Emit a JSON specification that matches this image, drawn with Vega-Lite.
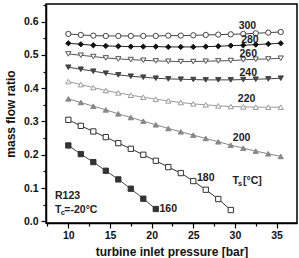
{
  "$schema": "https://vega.github.io/schema/vega-lite/v6.json",
  "autosize": "none",
  "width": 251,
  "height": 219,
  "padding": {"left": 46, "top": 4, "right": 2, "bottom": 35},
  "background": "white",
  "config": {
    "font": "Liberation Sans",
    "view": {"stroke": "#000", "strokeWidth": 1.5},
    "axis": {"grid": false, "domainColor": "#000", "domainWidth": 1.5, "tickColor": "#000", "tickWidth": 1.2, "labelFont": "Liberation Sans", "labelFontWeight": "bold", "labelFontSize": 10.5, "labelColor": "#111", "titleFont": "Liberation Sans", "titleFontWeight": "bold", "titleFontSize": 12, "titleColor": "#111"}
  },
  "resolve": {"axis": {"x": "independent", "y": "independent"}},
  "datasets": {
    "series": [
      {"T":"300","p":10,"r":0.563},{"T":"300","p":11.5,"r":0.560},{"T":"300","p":13,"r":0.558},{"T":"300","p":14.5,"r":0.557},{"T":"300","p":16,"r":0.557},{"T":"300","p":17.5,"r":0.557},{"T":"300","p":19,"r":0.557},{"T":"300","p":20.5,"r":0.557},{"T":"300","p":22,"r":0.558},{"T":"300","p":23.5,"r":0.558},{"T":"300","p":25,"r":0.559},{"T":"300","p":26.5,"r":0.560},{"T":"300","p":28,"r":0.561},{"T":"300","p":29.5,"r":0.562},{"T":"300","p":31,"r":0.563},{"T":"300","p":32.5,"r":0.565},{"T":"300","p":34,"r":0.567},{"T":"300","p":35.5,"r":0.569},
      {"T":"280","p":10,"r":0.535},{"T":"280","p":11.5,"r":0.532},{"T":"280","p":13,"r":0.529},{"T":"280","p":14.5,"r":0.527},{"T":"280","p":16,"r":0.526},{"T":"280","p":17.5,"r":0.525},{"T":"280","p":19,"r":0.525},{"T":"280","p":20.5,"r":0.525},{"T":"280","p":22,"r":0.524},{"T":"280","p":23.5,"r":0.524},{"T":"280","p":25,"r":0.524},{"T":"280","p":26.5,"r":0.525},{"T":"280","p":28,"r":0.526},{"T":"280","p":29.5,"r":0.528},{"T":"280","p":31,"r":0.529},{"T":"280","p":32.5,"r":0.531},{"T":"280","p":34,"r":0.533},{"T":"280","p":35.5,"r":0.535},
      {"T":"260","p":10,"r":0.503},{"T":"260","p":11.5,"r":0.499},{"T":"260","p":13,"r":0.495},{"T":"260","p":14.5,"r":0.491},{"T":"260","p":16,"r":0.488},{"T":"260","p":17.5,"r":0.486},{"T":"260","p":19,"r":0.484},{"T":"260","p":20.5,"r":0.482},{"T":"260","p":22,"r":0.481},{"T":"260","p":23.5,"r":0.480},{"T":"260","p":25,"r":0.480},{"T":"260","p":26.5,"r":0.481},{"T":"260","p":28,"r":0.482},{"T":"260","p":29.5,"r":0.483},{"T":"260","p":31,"r":0.485},{"T":"260","p":32.5,"r":0.487},{"T":"260","p":34,"r":0.488},{"T":"260","p":35.5,"r":0.490},
      {"T":"240","p":10,"r":0.463},{"T":"240","p":11.5,"r":0.457},{"T":"240","p":13,"r":0.451},{"T":"240","p":14.5,"r":0.445},{"T":"240","p":16,"r":0.440},{"T":"240","p":17.5,"r":0.436},{"T":"240","p":19,"r":0.433},{"T":"240","p":20.5,"r":0.430},{"T":"240","p":22,"r":0.428},{"T":"240","p":23.5,"r":0.427},{"T":"240","p":25,"r":0.426},{"T":"240","p":26.5,"r":0.425},{"T":"240","p":28,"r":0.425},{"T":"240","p":29.5,"r":0.425},{"T":"240","p":31,"r":0.426},{"T":"240","p":32.5,"r":0.427},{"T":"240","p":34,"r":0.428},{"T":"240","p":35.5,"r":0.430},
      {"T":"220","p":10,"r":0.420},{"T":"220","p":11.5,"r":0.411},{"T":"220","p":13,"r":0.402},{"T":"220","p":14.5,"r":0.393},{"T":"220","p":16,"r":0.386},{"T":"220","p":17.5,"r":0.379},{"T":"220","p":19,"r":0.373},{"T":"220","p":20.5,"r":0.367},{"T":"220","p":22,"r":0.362},{"T":"220","p":23.5,"r":0.357},{"T":"220","p":25,"r":0.353},{"T":"220","p":26.5,"r":0.350},{"T":"220","p":28,"r":0.347},{"T":"220","p":29.5,"r":0.345},{"T":"220","p":31,"r":0.344},{"T":"220","p":32.5,"r":0.343},{"T":"220","p":34,"r":0.343},{"T":"220","p":35.5,"r":0.343},
      {"T":"200","p":10,"r":0.368},{"T":"200","p":11.5,"r":0.357},{"T":"200","p":13,"r":0.346},{"T":"200","p":14.5,"r":0.335},{"T":"200","p":16,"r":0.323},{"T":"200","p":17.5,"r":0.312},{"T":"200","p":19,"r":0.301},{"T":"200","p":20.5,"r":0.290},{"T":"200","p":22,"r":0.279},{"T":"200","p":23.5,"r":0.269},{"T":"200","p":25,"r":0.259},{"T":"200","p":26.5,"r":0.249},{"T":"200","p":28,"r":0.239},{"T":"200","p":29.5,"r":0.229},{"T":"200","p":31,"r":0.220},{"T":"200","p":32.5,"r":0.211},{"T":"200","p":34,"r":0.203},{"T":"200","p":35.5,"r":0.195},
      {"T":"180","p":10,"r":0.305},{"T":"180","p":11.5,"r":0.287},{"T":"180","p":13,"r":0.270},{"T":"180","p":14.5,"r":0.253},{"T":"180","p":16,"r":0.235},{"T":"180","p":17.5,"r":0.218},{"T":"180","p":19,"r":0.200},{"T":"180","p":20.5,"r":0.182},{"T":"180","p":22,"r":0.163},{"T":"180","p":23.5,"r":0.145},{"T":"180","p":25,"r":0.121},{"T":"180","p":26.5,"r":0.095},{"T":"180","p":28,"r":0.067},{"T":"180","p":29.5,"r":0.034},
      {"T":"160","p":10,"r":0.228},{"T":"160","p":11.5,"r":0.202},{"T":"160","p":13,"r":0.178},{"T":"160","p":14.5,"r":0.152},{"T":"160","p":16,"r":0.126},{"T":"160","p":17.5,"r":0.098},{"T":"160","p":19,"r":0.068},{"T":"160","p":20.5,"r":0.037}
    ],
    "labels": [
      {"x":31.5,"y":0.587,"text":"300"},{"x":31.8,"y":0.546,"text":"280"},{"x":31.6,"y":0.502,"text":"260"},{"x":31.6,"y":0.446,"text":"240"},{"x":31.4,"y":0.368,"text":"220"},{"x":30.8,"y":0.249,"text":"200"},{"x":26.5,"y":0.131,"text":"180"},{"x":22.0,"y":0.037,"text":"160"}
    ],
    "notes": [
      {"x":29.71,"y":0.122,"text":"T"},{"x":30.97,"y":0.122,"text":"[°C]"},{"x":8.40,"y":0.077,"text":"R123"},{"x":8.40,"y":0.034,"text":"T"},{"x":9.52,"y":0.034,"text":"=-20°C"}
    ],
    "subs": [
      {"x":30.37,"y":0.112,"text":"s"},{"x":9.09,"y":0.025,"text":"c"}
    ]
  },
  "layer": [
    {
      "data": {"name": "series"},
      "mark": {"type": "line", "strokeWidth": 1},
      "encoding": {
        "x": {"field": "p", "type": "quantitative", "scale": {"domain": [7.32, 37.45], "nice": false, "zero": false},
          "axis": {"orient": "bottom", "title": "turbine inlet pressure [bar]", "values": [10,15,20,25,30,35], "format": "d", "labelOverlap": false, "tickSize": 5, "labelPadding": 2, "titlePadding": 6}},
        "y": {"field": "r", "type": "quantitative", "scale": {"domain": [-0.005, 0.653], "nice": false, "zero": false},
          "axis": {"orient": "left", "title": "mass flow ratio", "values": [0,0.1,0.2,0.3,0.4,0.5,0.6], "format": ".1f", "labelOverlap": false, "tickSize": 5, "labelPadding": 3, "titlePadding": 6}},
        "color": {"field": "T", "type": "nominal", "legend": null,
          "scale": {"domain": ["300","280","260","240","220","200","180","160"], "range": ["#444","#222","#555","#444","#9a9a9a","#888","#333","#444"]}},
        "detail": {"field": "T"}
      }
    },
    {
      "data": {"name": "series"},
      "mark": {"type": "point", "filled": true, "size": 28, "strokeWidth": 1, "opacity": 1},
      "encoding": {
        "x": {"field": "p", "type": "quantitative",
          "axis": {"orient": "bottom", "title": null, "values": [7.5,12.5,17.5,22.5,27.5,32.5,37.5], "labels": false, "domain": false, "tickSize": 3}},
        "y": {"field": "r", "type": "quantitative",
          "axis": {"orient": "left", "title": null, "values": [0.05,0.15,0.25,0.35,0.45,0.55,0.65], "labels": false, "domain": false, "tickSize": 3}},
        "shape": {"field": "T", "type": "nominal", "legend": null,
          "scale": {"domain": ["300","280","260","240","220","200","180","160"], "range": ["circle","diamond","triangle-down","triangle-down","triangle-up","triangle-up","square","square"]}},
        "fill": {"field": "T", "type": "nominal", "legend": null,
          "scale": {"domain": ["300","280","260","240","220","200","180","160"], "range": ["#fff","#111","#fff","#444","#fff","#888","#fff","#333"]}},
        "stroke": {"field": "T", "type": "nominal", "legend": null,
          "scale": {"domain": ["300","280","260","240","220","200","180","160"], "range": ["#444","#111","#555","#444","#9a9a9a","#888","#333","#333"]}}
      }
    },
    {
      "data": {"name": "labels"},
      "mark": {"type": "text", "font": "Liberation Sans", "fontWeight": "bold", "fontSize": 10.5, "color": "#222", "align": "center", "baseline": "middle"},
      "encoding": {
        "x": {"field": "x", "type": "quantitative", "axis": null},
        "y": {"field": "y", "type": "quantitative", "axis": null},
        "text": {"field": "text"}
      }
    },
    {
      "data": {"name": "notes"},
      "mark": {"type": "text", "font": "Liberation Sans", "fontWeight": "bold", "fontSize": 10.5, "color": "#222", "align": "left", "baseline": "middle"},
      "encoding": {
        "x": {"field": "x", "type": "quantitative", "axis": null},
        "y": {"field": "y", "type": "quantitative", "axis": null},
        "text": {"field": "text"}
      }
    },
    {
      "data": {"name": "subs"},
      "mark": {"type": "text", "font": "Liberation Sans", "fontWeight": "bold", "fontSize": 7.5, "color": "#222", "align": "left", "baseline": "middle"},
      "encoding": {
        "x": {"field": "x", "type": "quantitative", "axis": null},
        "y": {"field": "y", "type": "quantitative", "axis": null},
        "text": {"field": "text"}
      }
    }
  ]
}
